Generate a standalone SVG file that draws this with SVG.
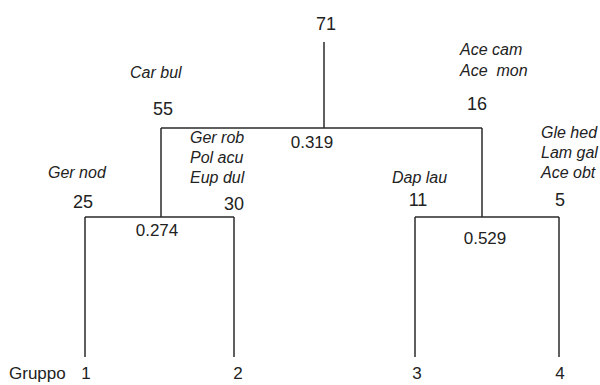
<svg xmlns="http://www.w3.org/2000/svg" width="600" height="385" viewBox="0 0 600 385">
<style>
text{font-family:"Liberation Sans",Arial,sans-serif;fill:#222}
.n{font-size:18px}
.d{font-size:17px}
.s{font-size:16px;font-style:italic;white-space:pre}
.c line{stroke:#2a2a2a;stroke-width:1.5}
</style>
<rect width="600" height="385" fill="#fff"/>
<g id="connectors" class="c">
<line x1="324" y1="42" x2="324" y2="128"/>
<line x1="161" y1="128" x2="482" y2="128"/>
<line x1="161" y1="128" x2="161" y2="217"/>
<line x1="482" y1="128" x2="482" y2="217"/>
<line x1="85" y1="217" x2="234" y2="217"/>
<line x1="415" y1="217" x2="559" y2="217"/>
<line x1="85" y1="217" x2="85" y2="357"/>
<line x1="234" y1="217" x2="234" y2="357"/>
<line x1="415" y1="217" x2="415" y2="357"/>
<line x1="559" y1="217" x2="559" y2="357"/>
</g>
<g id="root">
<text class="n" x="326" y="30" text-anchor="middle">71</text>
<text class="d" x="312" y="148" text-anchor="middle">0.319</text>
</g>
<g id="node55">
<text class="s" x="130" y="78">Car bul</text>
<text class="n" x="163" y="115" text-anchor="middle">55</text>
<text class="d" x="157" y="236" text-anchor="middle">0.274</text>
</g>
<g id="node16">
<text class="s" x="460" y="55">Ace cam</text>
<text class="s" x="460" y="76">Ace  mon</text>
<text class="n" x="477" y="110" text-anchor="middle">16</text>
<text class="d" x="485" y="244" text-anchor="middle">0.529</text>
</g>
<g id="leaf25">
<text class="s" x="48" y="178">Ger nod</text>
<text class="n" x="83" y="208" text-anchor="middle">25</text>
</g>
<g id="leaf30">
<text class="s" x="190" y="143">Ger rob</text>
<text class="s" x="190" y="163">Pol acu</text>
<text class="s" x="190" y="183">Eup dul</text>
<text class="n" x="244" y="210" text-anchor="end">30</text>
</g>
<g id="leaf11">
<text class="s" x="392" y="183">Dap lau</text>
<text class="n" x="418" y="206" text-anchor="middle">11</text>
</g>
<g id="leaf5">
<text class="s" x="541" y="138">Gle hed</text>
<text class="s" x="541" y="158">Lam gal</text>
<text class="s" x="541" y="178">Ace obt</text>
<text class="n" x="560" y="206" text-anchor="middle">5</text>
</g>
<g id="group1">
<text class="d" x="9" y="379">Gruppo</text>
<text class="d" x="86" y="379" text-anchor="middle">1</text>
</g>
<g id="group2"><text class="d" x="238" y="379" text-anchor="middle">2</text></g>
<g id="group3"><text class="d" x="417" y="379" text-anchor="middle">3</text></g>
<g id="group4"><text class="d" x="560" y="379" text-anchor="middle">4</text></g>
</svg>
